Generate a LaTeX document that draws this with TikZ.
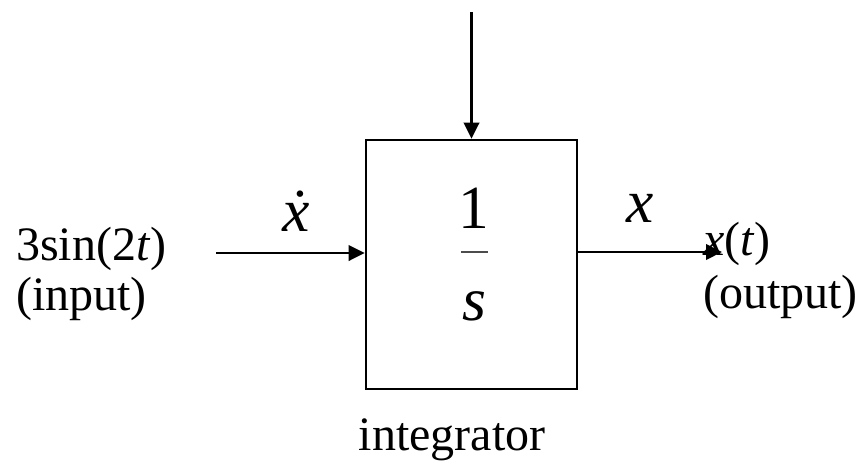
\documentclass[tikz,border=0pt]{standalone}
\usepackage{fontspec}
\setmainfont{Liberation Serif}
\usetikzlibrary{arrows.meta,positioning}
\tikzset{
  >={Triangle[length=12pt,width=11.5pt]},
  sig/.style={->,line width=2pt},
  block/.style={draw,line width=2pt,inner sep=0pt,
    minimum width=158.25pt,minimum height=186.75pt},
  lbl/.style={font=\fontsize{36}{40}\selectfont,inner sep=0pt},
  sym/.style={font=\fontsize{46}{50}\selectfont\itshape,inner sep=0pt},
}

\begin{document}
\begin{tikzpicture}[x=0.75pt,y=-0.75pt]
  \useasboundingbox (0,0) rectangle (857,462);
  % integrator block with 1/s
  \node[block] (integ) at (471.5,264.5) {};
  \node[sym,anchor=base] (num) at (474,228) {\upshape 1};
  \node[sym,anchor=base] (den) at (474,320) {s};
  \draw[line width=1pt,black!70] (461,252) -- (488,252);
  % signal ends
  \coordinate (feed) at (471.5,12);
  \coordinate (src) at (216,253);
  \coordinate (dst) at (722,252);
  \draw[sig] (feed) -- (feed |- integ.north);
  \draw[sig] (src) -- (src -| integ.west);
  \draw[sig] (dst -| integ.east) -- (dst);
  % labels
  \node[sym,anchor=base] (xdot) at (296,231) {\.{x}};
  \node[sym,anchor=base] (xout) at (640,222) {x};
  \node[lbl,anchor=base west] (inp) at (16,260) {3sin(2\textit{t})};
  \node[lbl,anchor=base west] (inpname) at (16,310) {(input)};
  \node[lbl,anchor=base west] (outp) at (703,255) {\textit{x}(\textit{t})};
  \node[lbl,anchor=base west] (outpname) at (703,308) {(output)};
  \node[lbl,anchor=base] (name) at (452,450) {integrator};
\end{tikzpicture}
\end{document}
